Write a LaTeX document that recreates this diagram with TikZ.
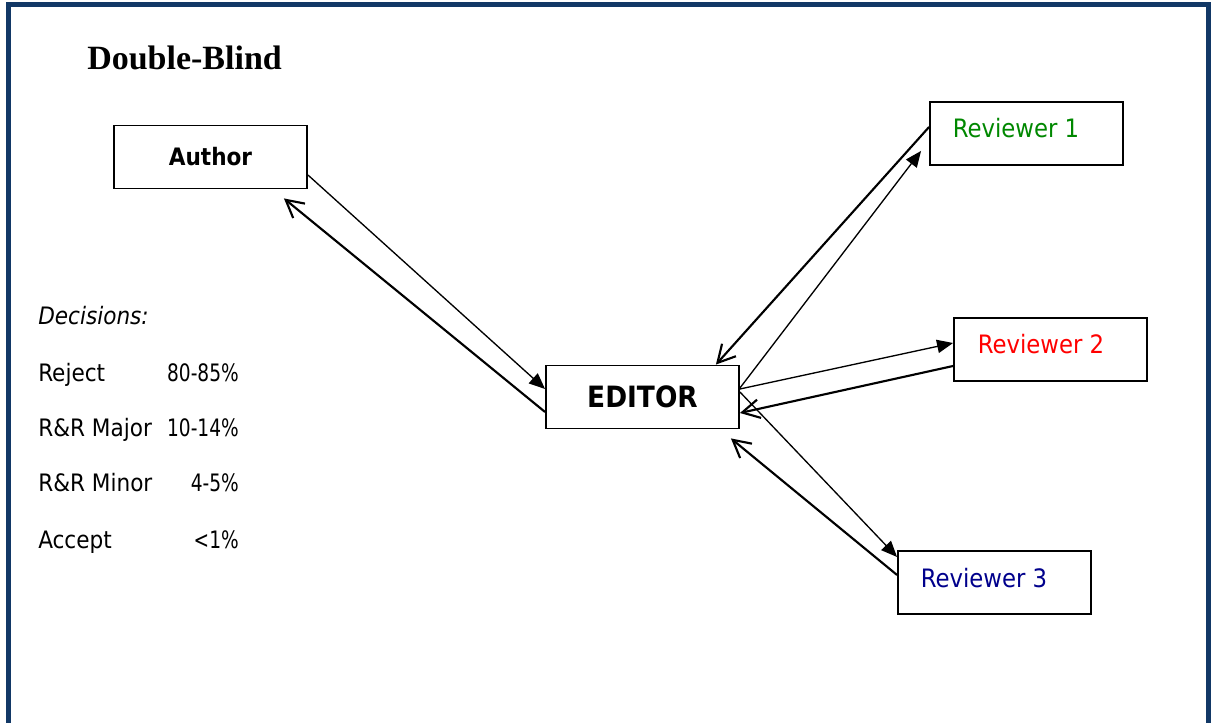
\documentclass[tikz,border=0pt]{standalone}
\usepackage{fontspec}
\setmainfont{Liberation Serif}
\newfontfamily\tah{DejaVu Sans Condensed}
\newfontfamily\tahn{DejaVu Sans Condensed}[FakeStretch=0.86]
\usetikzlibrary{arrows.meta,calc}
\definecolor{framec}{RGB}{18,56,102}
\definecolor{revgreen}{RGB}{0,136,0}
\definecolor{revred}{RGB}{255,0,0}
\definecolor{revblue}{RGB}{0,0,140}
\begin{document}
\begin{tikzpicture}[x=0.75pt,y=-0.75pt,
  box/.style={draw,line width=1.4pt,minimum width=144.75pt,minimum height=47.25pt,inner sep=0pt,fill=white},
  revtext/.style={font=\tah\fontsize{19}{22}\selectfont},
  dec/.style={font=\tah\fontsize{18}{21}\selectfont,inner sep=0pt,anchor=base west},
  num/.style={font=\tahn\fontsize{18}{21}\selectfont,inner sep=0pt,anchor=base east},
  thinarrow/.style={line width=1pt,-{Triangle[length=12pt,width=10pt]}},
  thickarrow/.style={line width=1.6pt,-{Straight Barb[length=13pt,width=14pt,line width=1.6pt]}}]
\useasboundingbox (0,0) rectangle (1211,723);
\draw[framec,line width=3.75pt] (8.5,760) -- (8.5,4.5) -- (1208.5,4.5) -- (1208.5,760);

\node[anchor=base west,inner sep=0pt,font=\bfseries\fontsize{25.5}{29}\selectfont] (title) at (87,70) {Double-Blind};

\node[box,font=\tah\bfseries\fontsize{18}{21}\selectfont] (author) at (210.5,157) {Author};
\node[box,font=\tah\bfseries\fontsize{22}{26}\selectfont] (editor) at (642.5,397) {EDITOR};
\node[box,label={[revtext,text=revgreen,xshift=-7.9pt,yshift=4.1pt]center:Reviewer 1}] (rev1) at (1026.5,133.5) {};
\node[box,label={[revtext,text=revred,xshift=-7.1pt,yshift=4.1pt]center:Reviewer 2}] (rev2) at (1050.5,349.5) {};
\node[box,label={[revtext,text=revblue,xshift=-7.9pt,yshift=3pt]center:Reviewer 3}] (rev3) at (994.5,582.5) {};

\node[dec,font=\tah\itshape\fontsize{18}{21}\selectfont] (dech) at (38,325) {Decisions:};
\node[dec] (d1) at (38,382) {Reject};
\node[num] (n1) at (239,382) {80-85\%};
\node[dec] (d2) at (38,437) {R\&R Major};
\node[num] (n2) at (239,437) {10-14\%};
\node[dec] (d3) at (38,492) {R\&R Minor};
\node[num] (n3) at (239,492) {4-5\%};
\node[dec] (d4) at (38,549) {Accept};
\node[num] (n4) at (239,549) {<1\%};

% Author <-> Editor
\draw[thinarrow] ($(author.east)+(0,18)$) -- ($(editor.west)+(0,-8)$);
\draw[thickarrow] ($(editor.west)+(0,15)$) -- ($(author.south east)+(-24,9)$);
% Reviewer 1
\draw[thickarrow] ($(rev1.west)+(0,-6.5)$) -- ($(editor.north east)+(-24,0)$);
\draw[thinarrow] ($(editor.east)+(0,-9)$) -- ($(rev1.south west)+(-8,-15)$);
% Reviewer 2
\draw[thinarrow] ($(editor.east)+(0,-8)$) -- ($(rev2.west)+(0,-6.5)$);
\draw[thickarrow] ($(rev2.west)+(0,16.5)$) -- ($(editor.east)+(0,16)$);
% Reviewer 3
\draw[thinarrow] ($(editor.east)+(0,-5)$) -- ($(rev3.west)+(0,-25.5)$);
\draw[thickarrow] ($(rev3.west)+(0,-7.5)$) -- ($(editor.south east)+(-9,9)$);
\end{tikzpicture}
\end{document}
